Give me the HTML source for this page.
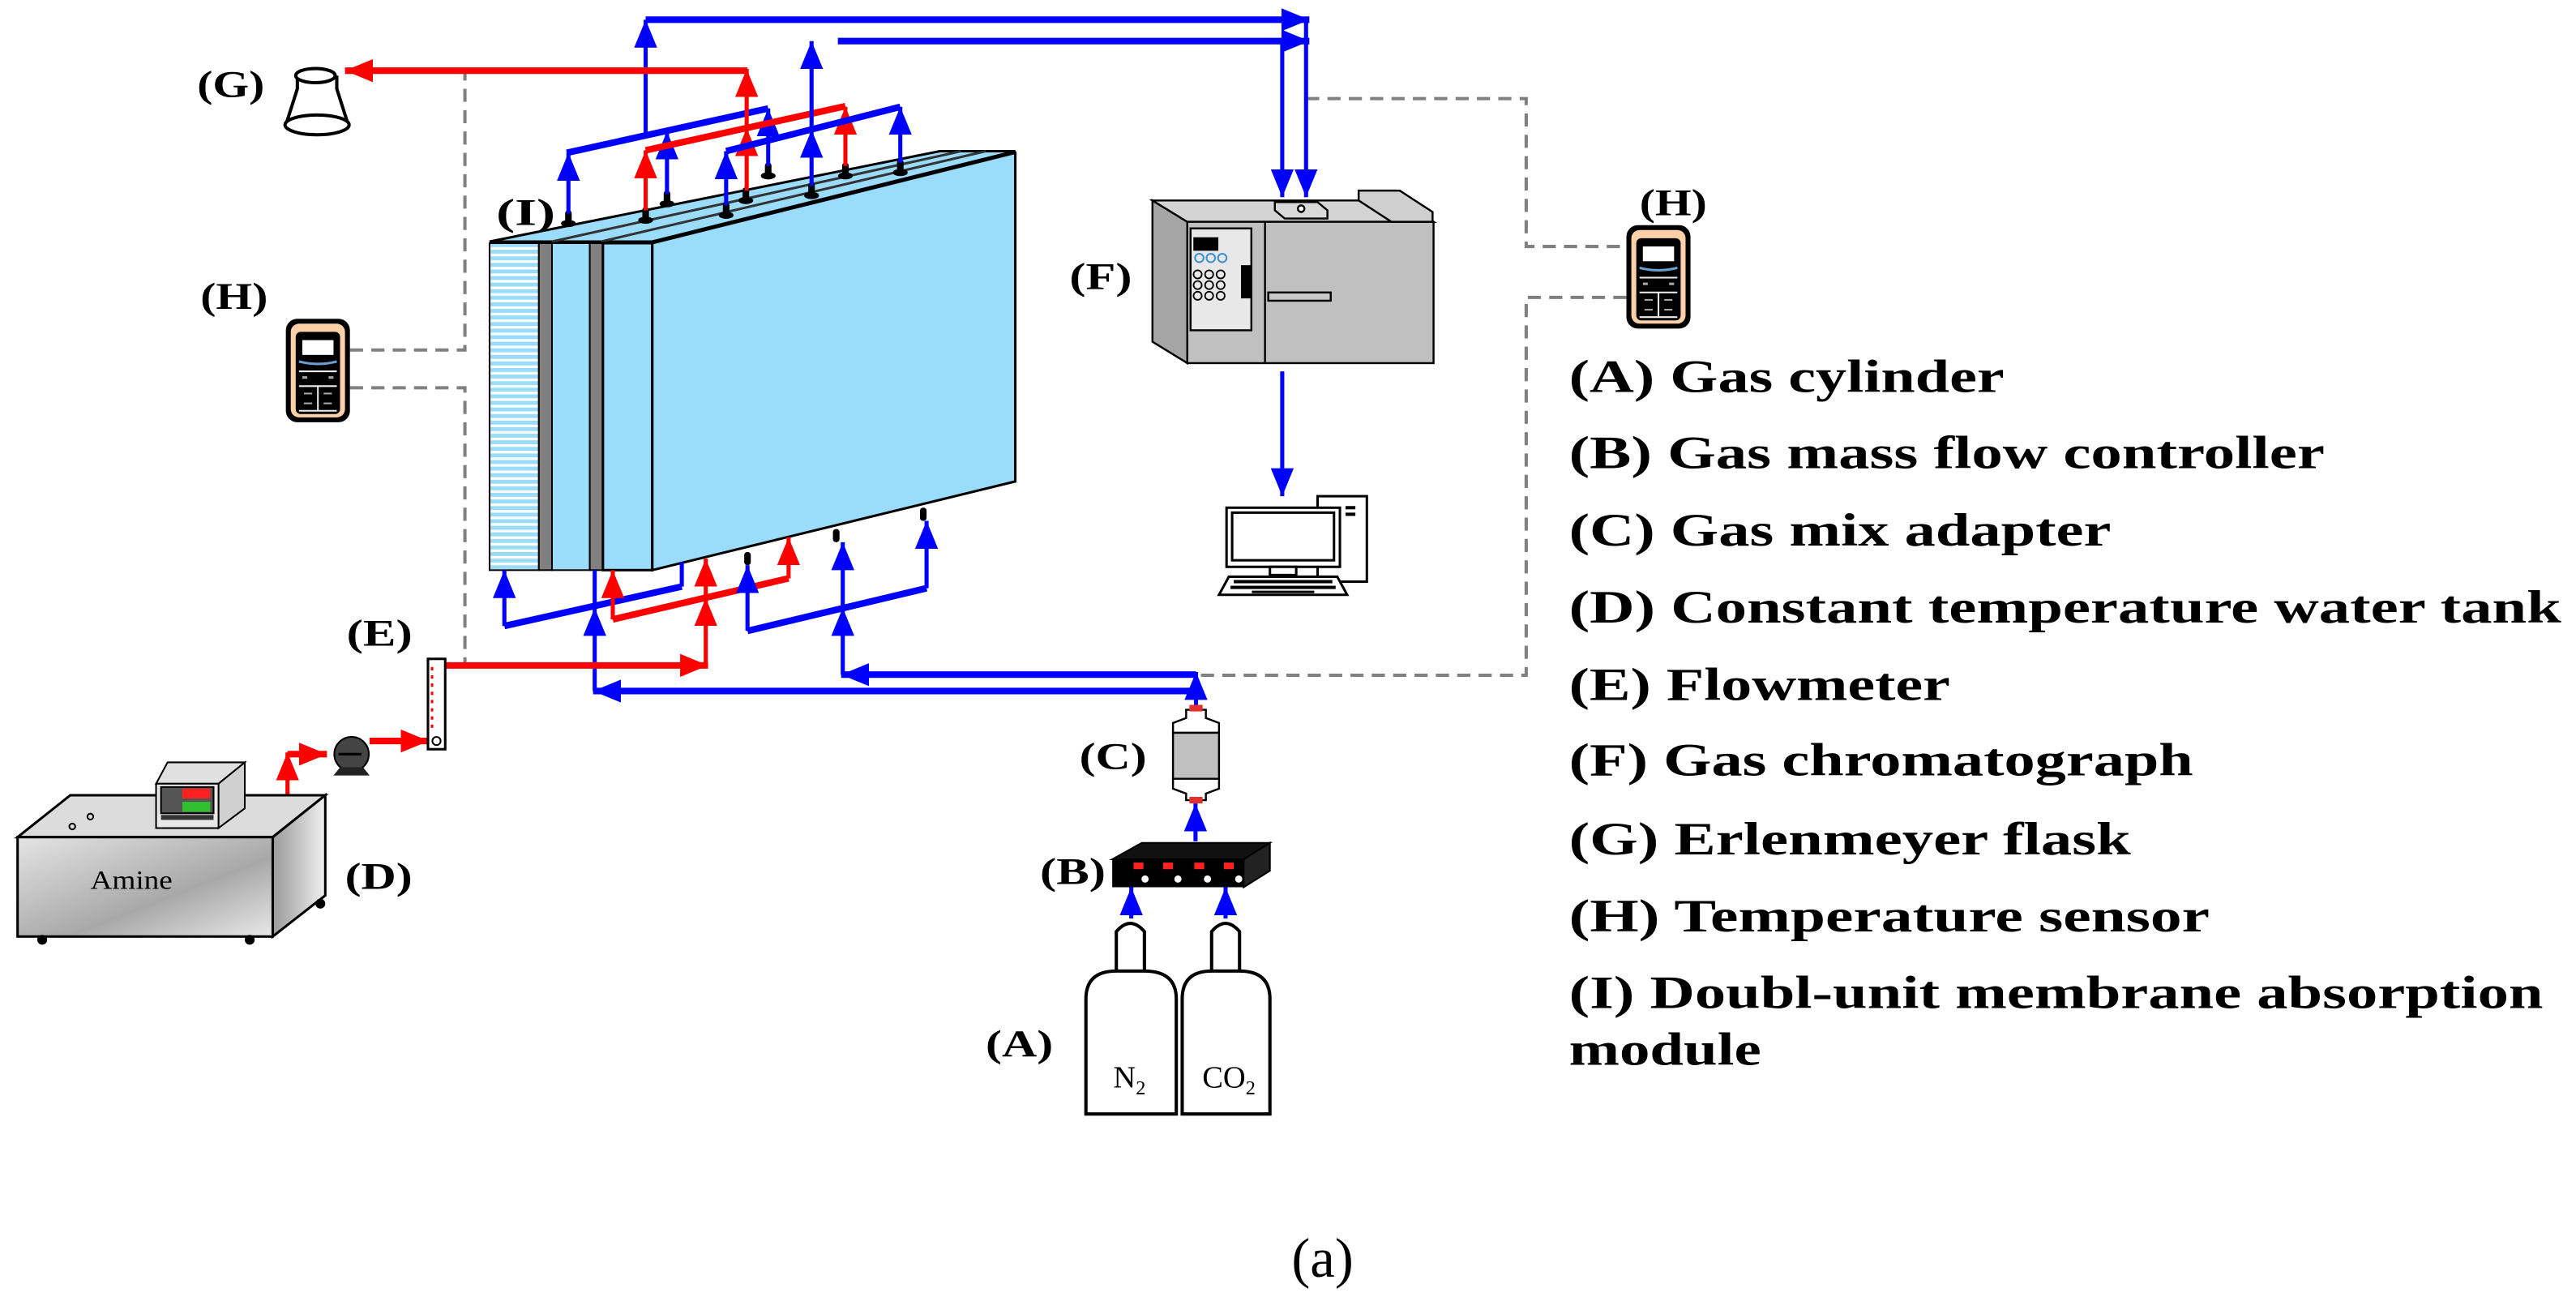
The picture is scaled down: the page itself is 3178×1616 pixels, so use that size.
<!DOCTYPE html>
<html><head><meta charset="utf-8"><style>html,body{margin:0;padding:0;background:#fff;}svg{display:block;}</style></head>
<body>
<svg xmlns="http://www.w3.org/2000/svg" width="3178" height="1616" viewBox="0 0 1568 797.3">
<defs>
<marker id="ab" viewBox="0 0 17 14" refX="17" refY="7" markerWidth="17" markerHeight="14" markerUnits="userSpaceOnUse" orient="auto"><path d="M0,0 L17,7 L0,14 Z" fill="#0000ff"/></marker>
<marker id="ar" viewBox="0 0 17 14" refX="17" refY="7" markerWidth="17" markerHeight="14" markerUnits="userSpaceOnUse" orient="auto"><path d="M0,0 L17,7 L0,14 Z" fill="#ff0000"/></marker>
<pattern id="stripe" patternUnits="userSpaceOnUse" width="10" height="4"><rect width="10" height="4" fill="#fff"/><rect width="10" height="2.4" fill="#9adcfa"/></pattern>
<linearGradient id="tank" x1="0" y1="0" x2="1" y2="1"><stop offset="0" stop-color="#e4e4e4"/><stop offset="0.6" stop-color="#a8a8a8"/><stop offset="1" stop-color="#e8e8e8"/></linearGradient>
<linearGradient id="tank2" x1="0" y1="0" x2="1" y2="0"><stop offset="0" stop-color="#9a9a9a"/><stop offset="1" stop-color="#f0f0f0"/></linearGradient>
<g id="nz"><ellipse cx="0" cy="0" rx="4.5" ry="2.2" fill="#000"/><rect x="-2" y="-8" width="4" height="8" rx="1.8" fill="#000"/></g>
<g id="sensor">
<rect x="0" y="0" width="39" height="63" rx="7" fill="#000"/>
<rect x="3" y="3" width="33" height="57" rx="5" fill="#fdd0a8"/>
<rect x="6" y="8" width="27" height="50" rx="3" fill="#000"/>
<rect x="10" y="13" width="19" height="9" fill="#fff"/>
<path d="M8,26 Q19.5,29 31,26" stroke="#6aa0d0" stroke-width="1.5" fill="none"/>
<line x1="8" y1="32" x2="31" y2="32" stroke="#eee" stroke-width="1"/>
<line x1="8" y1="41" x2="31" y2="41" stroke="#eee" stroke-width="1"/>
<line x1="8" y1="56" x2="31" y2="56" stroke="#eee" stroke-width="1"/>
<line x1="19.5" y1="41" x2="19.5" y2="56" stroke="#eee" stroke-width="1"/>
<rect x="10" y="35" width="3" height="1.5" fill="#aaa"/><rect x="26" y="35" width="3" height="1.5" fill="#aaa"/>
<rect x="11" y="45" width="5" height="1" fill="#aaa"/><rect x="23" y="45" width="5" height="1" fill="#aaa"/>
<rect x="11" y="51" width="5" height="1" fill="#aaa"/><rect x="23" y="51" width="5" height="1" fill="#aaa"/>
</g>
</defs>

<g stroke="#808080" stroke-width="2" fill="none" stroke-dasharray="8,5">
<path d="M213,213 L283,213 L283,43"/>
<path d="M213,236 L283,236 L283,405"/>
<path d="M795,60 L929,60 L929,150 L990,150"/>
<path d="M990,181 L929,181 L929,411 L728,411"/>
</g>

<polygon points="298,147 397,147 618,92 572,92" fill="#9adcfa" stroke="#000" stroke-width="1.5"/>
<line x1="336" y1="147" x2="585" y2="92" stroke="#333" stroke-width="1.5"/>
<line x1="366" y1="147" x2="600" y2="92" stroke="#333" stroke-width="1.5"/>
<polygon points="397,148 618,93 618,293 397,347" fill="#9adcfa" stroke="#000" stroke-width="1.5"/>
<rect x="298" y="148" width="30" height="199" fill="url(#stripe)" stroke="#000" stroke-width="1"/>
<rect x="328" y="148" width="8" height="199" fill="#808080" stroke="#000" stroke-width="1"/>
<rect x="336" y="148" width="23" height="199" fill="#9adcfa" stroke="#000" stroke-width="1"/>
<rect x="359" y="148" width="8" height="199" fill="#808080" stroke="#000" stroke-width="1"/>
<rect x="367" y="148" width="30" height="199" fill="#9adcfa" stroke="#000" stroke-width="1.5"/>

<use href="#nz" x="346" y="136"/><use href="#nz" x="393" y="134"/><use href="#nz" x="406" y="124"/>
<use href="#nz" x="442" y="131"/><use href="#nz" x="454" y="122"/><use href="#nz" x="467.6" y="107"/>
<use href="#nz" x="494" y="119"/><use href="#nz" x="514.6" y="107"/><use href="#nz" x="548" y="105"/>
<rect x="453" y="336" width="4" height="8" rx="1.8" fill="#000"/>
<rect x="507" y="322" width="4" height="8" rx="1.8" fill="#000"/>
<rect x="560" y="309" width="4" height="8" rx="1.8" fill="#000"/>

<g stroke="#0000ff" fill="none">
<line x1="346" y1="130" x2="346" y2="93" stroke-width="2.5" marker-end="url(#ab)"/>
<line x1="406" y1="118" x2="406" y2="80" stroke-width="2.5" marker-end="url(#ab)"/>
<line x1="467.6" y1="101" x2="467.6" y2="66" stroke-width="2.5" marker-end="url(#ab)"/>
<line x1="345" y1="93" x2="467.6" y2="66" stroke-width="4"/>
<line x1="393" y1="82.4" x2="393" y2="12" stroke-width="2.5" marker-end="url(#ab)"/>
<line x1="393" y1="12" x2="797" y2="12" stroke-width="4" marker-end="url(#ab)"/>
<line x1="795" y1="12" x2="795" y2="120" stroke-width="2.5" marker-end="url(#ab)"/>
</g>
<g stroke="#ff0000" fill="none">
<line x1="393" y1="128" x2="393" y2="91.5" stroke-width="2.5" marker-end="url(#ar)"/>
<line x1="514.6" y1="101" x2="514.6" y2="65" stroke-width="2.5" marker-end="url(#ar)"/>
<line x1="454.5" y1="116" x2="454.5" y2="78" stroke-width="2.5" marker-end="url(#ar)"/>
<line x1="454.5" y1="78" x2="454.5" y2="42" stroke-width="2.5" marker-end="url(#ar)"/>
<line x1="393" y1="91.5" x2="514.6" y2="64.6" stroke-width="4"/>
<line x1="455" y1="43" x2="210" y2="43" stroke-width="4" marker-end="url(#ar)"/>
</g>
<g stroke="#0000ff" fill="none">
<line x1="442" y1="125" x2="442" y2="92" stroke-width="2.5" marker-end="url(#ab)"/>
<line x1="548" y1="99" x2="548" y2="65" stroke-width="2.5" marker-end="url(#ab)"/>
<line x1="494" y1="113" x2="494" y2="79" stroke-width="2.5" marker-end="url(#ab)"/>
<line x1="494" y1="79" x2="494" y2="25" stroke-width="2.5" marker-end="url(#ab)"/>
<line x1="442" y1="92" x2="548" y2="65" stroke-width="4"/>
<line x1="510" y1="25" x2="797" y2="25" stroke-width="4" marker-end="url(#ab)"/>
<line x1="780.5" y1="25" x2="780.5" y2="120" stroke-width="2.5" marker-end="url(#ab)"/>
</g>

<g stroke="#0000ff" fill="none">
<line x1="307" y1="381" x2="307" y2="347" stroke-width="2.5" marker-end="url(#ab)"/>
<line x1="307" y1="381" x2="415" y2="357" stroke-width="4"/>
<line x1="415" y1="357" x2="415" y2="342" stroke-width="2.5"/>
<line x1="362" y1="420.6" x2="362" y2="370" stroke-width="2.5" marker-end="url(#ab)"/>
<line x1="362" y1="370" x2="362" y2="347" stroke-width="2.5"/>
<line x1="728" y1="420.6" x2="361" y2="420.6" stroke-width="4" marker-end="url(#ab)"/>
</g>
<g stroke="#ff0000" fill="none">
<line x1="373" y1="377" x2="373" y2="347" stroke-width="2.5" marker-end="url(#ar)"/>
<line x1="480" y1="352" x2="480" y2="327" stroke-width="2.5" marker-end="url(#ar)"/>
<line x1="373" y1="377" x2="480" y2="352" stroke-width="4"/>
<line x1="429.6" y1="405" x2="429.6" y2="364" stroke-width="2.5" marker-end="url(#ar)"/>
<line x1="429.6" y1="364" x2="429.6" y2="340" stroke-width="2.5" marker-end="url(#ar)"/>
<line x1="271" y1="405" x2="431" y2="405" stroke-width="4" marker-end="url(#ar)"/>
</g>
<g stroke="#0000ff" fill="none">
<line x1="455" y1="384" x2="455" y2="344" stroke-width="2.5" marker-end="url(#ab)"/>
<line x1="564" y1="358" x2="564" y2="317" stroke-width="2.5" marker-end="url(#ab)"/>
<line x1="455" y1="384" x2="564" y2="358" stroke-width="4"/>
<line x1="513" y1="410.6" x2="513" y2="370" stroke-width="2.5" marker-end="url(#ab)"/>
<line x1="513" y1="370" x2="513" y2="330" stroke-width="2.5" marker-end="url(#ab)"/>
<line x1="728" y1="410.6" x2="512" y2="410.6" stroke-width="4" marker-end="url(#ab)"/>
<line x1="728" y1="430" x2="728" y2="409" stroke-width="2.5" marker-end="url(#ab)"/>
<line x1="727.7" y1="512" x2="727.7" y2="489" stroke-width="2.5" marker-end="url(#ab)"/>
<line x1="688.6" y1="559" x2="688.6" y2="540" stroke-width="2.5" marker-end="url(#ab)"/>
<line x1="746" y1="559" x2="746" y2="540" stroke-width="2.5" marker-end="url(#ab)"/>
<line x1="780.5" y1="226" x2="780.5" y2="302" stroke-width="2.5" marker-end="url(#ab)"/>
</g>
<g stroke="#ff0000" fill="none">
<path d="M175,484 L175,458" stroke-width="2.5" marker-end="url(#ar)"/>
<path d="M175,459 L199,459" stroke-width="4" marker-end="url(#ar)"/>
<path d="M225,451 L261,451" stroke-width="4" marker-end="url(#ar)"/>
</g>

<g stroke="#000" stroke-width="2" fill="#fff">
<path d="M181,46 L181,54 L174,76 L212,76 L205,54 L205,46"/>
<ellipse cx="193" cy="76" rx="19.5" ry="6"/>
<ellipse cx="192" cy="46" rx="12" ry="4.3"/>
</g>

<use href="#sensor" x="174" y="194"/>
<use href="#sensor" x="990" y="137"/>

<g stroke="#000" stroke-width="1.2">
<polygon points="701.5,122 722.7,135 722.7,221 701.5,208" fill="#a5a5a5"/>
<polygon points="701.5,122 850,122 872.6,135 722.7,135" fill="#d4d4d4"/>
<rect x="722.7" y="135" width="149.9" height="86" fill="#c0c0c0"/>
<polygon points="827,116 852,116 872,129 872,135 847,135 827,122" fill="#cfcfcf"/>
<polygon points="776,123 802,123 808,128 808,133 782,133 776,128" fill="#d8d8d8"/>
<circle cx="792" cy="127" r="2" fill="#fff"/>
<rect x="724.7" y="139" width="37" height="62" fill="#e8e8e8"/>
<rect x="727" y="145" width="14" height="7" fill="#000"/>
<line x1="770" y1="135" x2="770" y2="221"/>
<rect x="772" y="178" width="38" height="5" fill="#c8c8c8"/>
<rect x="756" y="162" width="5" height="19" fill="#000"/>
</g>
<g fill="none" stroke="#3a8fd0" stroke-width="1"><circle cx="730" cy="157" r="2.6"/><circle cx="737" cy="157" r="2.6"/><circle cx="744" cy="157" r="2.6"/></g>
<g fill="none" stroke="#000" stroke-width="0.9">
<circle cx="729" cy="167" r="2.5"/><circle cx="736" cy="167" r="2.5"/><circle cx="743" cy="167" r="2.5"/>
<circle cx="729" cy="173.5" r="2.5"/><circle cx="736" cy="173.5" r="2.5"/><circle cx="743" cy="173.5" r="2.5"/>
<circle cx="729" cy="180" r="2.5"/><circle cx="736" cy="180" r="2.5"/><circle cx="743" cy="180" r="2.5"/>
</g>

<g stroke="#000" stroke-width="1.5" fill="#fff">
<rect x="802" y="302" width="30" height="52"/>
<rect x="746.6" y="309" width="69" height="36"/>
<rect x="750" y="312" width="62" height="29"/>
<rect x="773" y="345" width="16" height="5"/>
<polygon points="748,351 814,351 820,362 742,362"/>
</g>
<rect x="819" y="308" width="6" height="2" fill="#000"/><rect x="819" y="312" width="6" height="2" fill="#000"/>
<g fill="#000"><rect x="751" y="353" width="60" height="2"/><rect x="749" y="356.5" width="64" height="2"/><rect x="762" y="359.5" width="38" height="1.5"/></g>

<g stroke="#000" stroke-width="1.5">
<polygon points="10.7,509.5 42.8,484 198,484 166,509.5" fill="#dcdcdc"/>
<polygon points="166,509.5 198,484 198,545 166,570" fill="url(#tank2)"/>
<rect x="10.7" y="509.5" width="155.3" height="60.5" fill="url(#tank)"/>
</g>
<circle cx="25.7" cy="572" r="3" fill="#000"/><circle cx="152" cy="572" r="3" fill="#000"/><circle cx="195" cy="550" r="3" fill="#000"/>
<circle cx="55" cy="497" r="1.8" fill="none" stroke="#000"/><circle cx="44" cy="503" r="1.8" fill="none" stroke="#000"/>
<text x="80" y="541" font-family="Liberation Serif, serif" font-size="16" text-anchor="middle" textLength="50" lengthAdjust="spacingAndGlyphs">Amine</text>
<g stroke="#000" stroke-width="1">
<polygon points="95,477 102,464 149,464 133,477" fill="#e0e0e0"/>
<polygon points="133,477 149,464 149,492 133,504" fill="#d0d0d0"/>
<rect x="95" y="477" width="38" height="27" fill="#e8e8e8"/>
<rect x="98" y="479" width="32" height="16" fill="#555"/>
</g>
<rect x="111" y="480" width="17" height="6" fill="#ff2020"/><rect x="111" y="488" width="17" height="6" fill="#30c030"/>
<rect x="98" y="496" width="32" height="3" fill="#333"/>

<circle cx="214" cy="459" r="10.5" fill="#444" stroke="#000"/>
<polygon points="207,467 221,467 225,472 203,472" fill="#222"/>
<line x1="206" y1="459" x2="220" y2="459" stroke="#000" stroke-width="1.5"/>

<rect x="260.5" y="401" width="10.5" height="55" fill="#fff" stroke="#000" stroke-width="1.5"/>
<line x1="263" y1="406" x2="263" y2="445" stroke="#ff0000" stroke-width="1.5" stroke-dasharray="2,3"/>
<circle cx="265.7" cy="451" r="2.5" fill="none" stroke="#000"/>

<path d="M722,432 L722,437 L714,440 L714,446 L742,446 L742,440 L734,437 L734,432 Z" fill="#fff" stroke="#000" stroke-width="1.2"/>
<rect x="714" y="446" width="28" height="28" fill="#c0c0c0" stroke="#000" stroke-width="1.2"/>
<path d="M714,474 L714,480 L722,483 L722,487 L734,487 L734,483 L742,480 L742,474 Z" fill="#fff" stroke="#000" stroke-width="1.2"/>
<rect x="724" y="429" width="8" height="4" fill="#e03030"/><rect x="724" y="485" width="8" height="4" fill="#e03030"/>

<polygon points="677,523 695,513 773,513 757,523" fill="#111" stroke="#000"/>
<polygon points="757,523 773,513 773,530 757,540" fill="#222" stroke="#000"/>
<rect x="677" y="523" width="80" height="17" fill="#000"/>
<g fill="#ff2020"><rect x="690" y="525" width="6" height="4"/><rect x="708" y="525" width="6" height="4"/><rect x="727" y="525" width="6" height="4"/><rect x="745" y="525" width="6" height="4"/></g>
<g fill="#fff"><circle cx="697" cy="535" r="2.2"/><circle cx="717" cy="535" r="2.2"/><circle cx="735" cy="535" r="2.2"/><circle cx="754" cy="535" r="2.2"/></g>

<g stroke="#000" stroke-width="2" fill="#fff">
<path d="M679.5,591 L679.5,567 Q688,557 696.6,567 L696.6,591"/>
<path d="M661,678 L661,608 Q661,591 679.5,591 L696.6,591 Q716,591 716,608 L716,678 Z"/>
<path d="M737.5,591 L737.5,567 Q746,557 754.5,567 L754.5,591"/>
<path d="M719.6,678 L719.6,608 Q719.6,591 737.5,591 L754.5,591 Q773,591 773,608 L773,678 Z"/>
</g>
<text x="687.5" y="662" font-family="Liberation Serif, serif" font-size="19" text-anchor="middle">N<tspan font-size="12" dy="4">2</tspan></text>
<text x="748" y="662" font-family="Liberation Serif, serif" font-size="19" text-anchor="middle">CO<tspan font-size="12" dy="4">2</tspan></text>

<g font-family="Liberation Serif, serif" font-weight="bold" font-size="23" fill="#000">
<text x="120" y="59" textLength="41" lengthAdjust="spacingAndGlyphs">(G)</text>
<text x="302" y="137" textLength="36" lengthAdjust="spacingAndGlyphs">(I)</text>
<text x="122" y="188" textLength="41" lengthAdjust="spacingAndGlyphs">(H)</text>
<text x="651" y="176" textLength="38" lengthAdjust="spacingAndGlyphs">(F)</text>
<text x="998" y="131" textLength="41" lengthAdjust="spacingAndGlyphs">(H)</text>
<text x="211" y="393" textLength="40" lengthAdjust="spacingAndGlyphs">(E)</text>
<text x="210" y="541" textLength="41" lengthAdjust="spacingAndGlyphs">(D)</text>
<text x="657" y="468" textLength="41" lengthAdjust="spacingAndGlyphs">(C)</text>
<text x="633" y="538" textLength="40" lengthAdjust="spacingAndGlyphs">(B)</text>
<text x="600" y="643" textLength="41" lengthAdjust="spacingAndGlyphs">(A)</text>
</g>

<g font-family="Liberation Serif, serif" font-weight="bold" font-size="28" fill="#000">
<text x="955" y="238.5" textLength="265" lengthAdjust="spacingAndGlyphs">(A) Gas cylinder</text>
<text x="955" y="285" textLength="460" lengthAdjust="spacingAndGlyphs">(B) Gas mass flow controller</text>
<text x="955" y="332" textLength="330" lengthAdjust="spacingAndGlyphs">(C) Gas mix adapter</text>
<text x="955" y="379" textLength="604" lengthAdjust="spacingAndGlyphs">(D) Constant temperature water tank</text>
<text x="955" y="426" textLength="232" lengthAdjust="spacingAndGlyphs">(E) Flowmeter</text>
<text x="955" y="472" textLength="380" lengthAdjust="spacingAndGlyphs">(F) Gas chromatograph</text>
<text x="955" y="520" textLength="342" lengthAdjust="spacingAndGlyphs">(G) Erlenmeyer flask</text>
<text x="955" y="567" textLength="390" lengthAdjust="spacingAndGlyphs">(H) Temperature sensor</text>
<text x="955" y="613.5" textLength="593" lengthAdjust="spacingAndGlyphs">(I) Doubl-unit membrane absorption</text>
<text x="955" y="648" textLength="117" lengthAdjust="spacingAndGlyphs">module</text>
</g>
<text x="805" y="777" font-family="Liberation Serif, serif" font-size="34" text-anchor="middle">(a)</text>
</svg>
</body></html>
